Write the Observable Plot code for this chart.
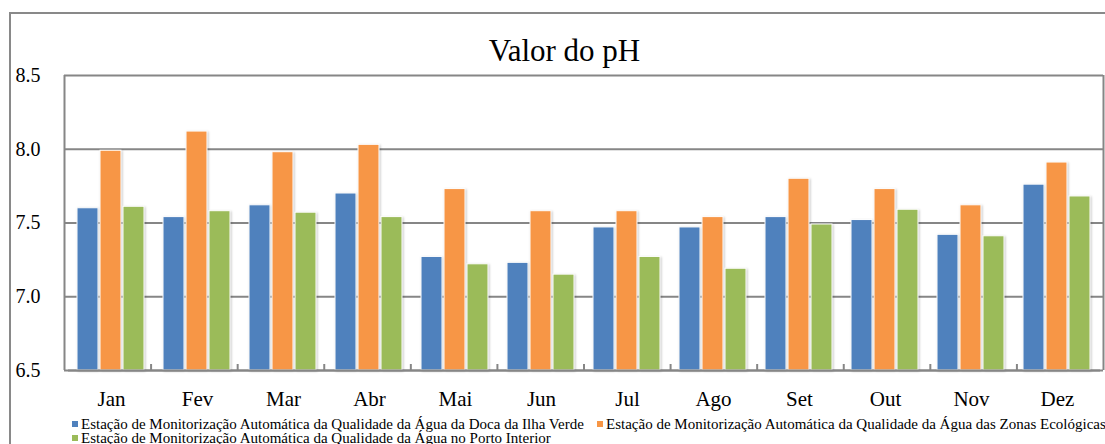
<!DOCTYPE html>
<html>
<head>
<meta charset="utf-8">
<script src="https://cdn.jsdelivr.net/npm/d3@7"></script>
<script src="https://cdn.jsdelivr.net/npm/@observablehq/plot@0.6"></script>
<style>
html, body { margin: 0; padding: 0; background: #fff; }
#chart { position: relative; width: 1105px; height: 444px; overflow: hidden; font-family: "Liberation Serif", "Times New Roman", serif; }
#outer { position: absolute; left: 9px; top: 12px; width: 1200px; height: 600px; border: 2px solid #898989; box-sizing: border-box; }
#title { position: absolute; left: 0; top: 35px; width: 1129px; text-align: center; font-size: 31px; line-height: 31px; color: #000; }
.layer { position: absolute; left: 0; top: 65px; }
.bars rect { filter: drop-shadow(1px 1px 1.2px rgba(0,0,0,0.22)); }
#legend { position: absolute; left: 72px; top: 417px; display: grid; grid-template-columns: 525px auto; font-size: 15px; line-height: 14px; color: #000; white-space: nowrap; }
.item { display: flex; align-items: center; }
.sw { width: 6px; height: 6px; margin-right: 3px; display: inline-block; flex: none; }
</style>
</head>
<body>
<div id="chart">
  <div id="outer"></div>
  <div id="title">Valor do pH</div>
  <div id="bg" class="layer"></div>
  <div id="fg" class="layer"></div>
  <div id="legend"></div>
</div>
<script>
const months = ["Jan", "Fev", "Mar", "Abr", "Mai", "Jun", "Jul", "Ago", "Set", "Out", "Nov", "Dez"];
const series = [
  "Estação de Monitorização Automática da Qualidade da Água da Doca da Ilha Verde",
  "Estação de Monitorização Automática da Qualidade da Água das Zonas Ecológicas",
  "Estação de Monitorização Automática da Qualidade da Água no Porto Interior"
];
const docaIlhaVerde   = [7.60, 7.54, 7.62, 7.70, 7.27, 7.23, 7.47, 7.47, 7.54, 7.52, 7.42, 7.76];
const zonasEcologicas = [7.99, 8.12, 7.98, 8.03, 7.73, 7.58, 7.58, 7.54, 7.80, 7.73, 7.62, 7.91];
const portoInterior   = [7.61, 7.58, 7.57, 7.54, 7.22, 7.15, 7.27, 7.19, 7.49, 7.59, 7.41, 7.68];
const yTicks = [6.5, 7.0, 7.5, 8.0, 8.5];
const colors = ["#4F81BD", "#F79646", "#9BBB59"];

const seriesValues = [docaIlhaVerde, zonasEcologicas, portoInterior];
const table = [];
months.forEach((m, i) => seriesValues.forEach((vals, s) => table.push({month: m, series: series[s], value: vals[i]})));
const yDomain = [yTicks[0], yTicks[yTicks.length - 1]];
const boundaries = months.slice(1).map((_, i) => i + 1);

const gridColor = "#868686";
const dims = {width: 1105, height: 345, marginLeft: 64, marginRight: 2, marginTop: 10, marginBottom: 40};
const fontFamily = "'Liberation Serif', 'Times New Roman', serif";

// Background: gridlines, plot frame, inner category ticks, y axis labels
const bg = Plot.plot({
  ...dims,
  style: {background: "transparent", fontFamily, fontSize: "20px", color: "#000", overflow: "visible"},
  x: {domain: [0, months.length], axis: null},
  y: {domain: yDomain, ticks: yTicks, tickFormat: d => d.toFixed(1), tickSize: 0, tickPadding: 24, label: null},
  marks: [
    Plot.ruleY(yTicks, {stroke: gridColor, strokeWidth: 2}),
    Plot.ruleX([0, months.length], {stroke: gridColor, strokeWidth: 2}),
    Plot.ruleX(boundaries, {y1: yDomain[0], y2: yDomain[0], insetBottom: 6, stroke: gridColor, strokeWidth: 2})
  ]
});
document.getElementById("bg").appendChild(bg);

// Bars grouped by month facets, month labels on the fx axis
const fg = Plot.plot({
  ...dims,
  className: "bars",
  style: {background: "transparent", fontFamily, fontSize: "21px", color: "#000", overflow: "visible"},
  facet: {data: table, x: "month"},
  fx: {domain: months, paddingInner: 0, paddingOuter: 0, label: null, tickSize: 0, tickPadding: 21, axis: "bottom"},
  x: {type: "band", domain: series, paddingInner: 0.07, paddingOuter: 0.387, axis: null},
  y: {domain: yDomain, axis: null},
  color: {domain: series, range: colors},
  marks: [
    Plot.barY(table, {x: "series", y1: yDomain[0], y2: "value", fill: "series", stroke: "white", strokeWidth: 1}),
    Plot.ruleY([yDomain[0]], {stroke: gridColor, strokeWidth: 2})
  ]
});
document.getElementById("fg").appendChild(fg);

const legend = document.getElementById("legend");
series.forEach((name, i) => {
  const item = document.createElement("div");
  item.className = "item";
  const sw = document.createElement("span");
  sw.className = "sw";
  sw.style.background = colors[i];
  const label = document.createElement("span");
  label.textContent = name;
  item.appendChild(sw);
  item.appendChild(label);
  legend.appendChild(item);
});
</script>
</body>
</html>
